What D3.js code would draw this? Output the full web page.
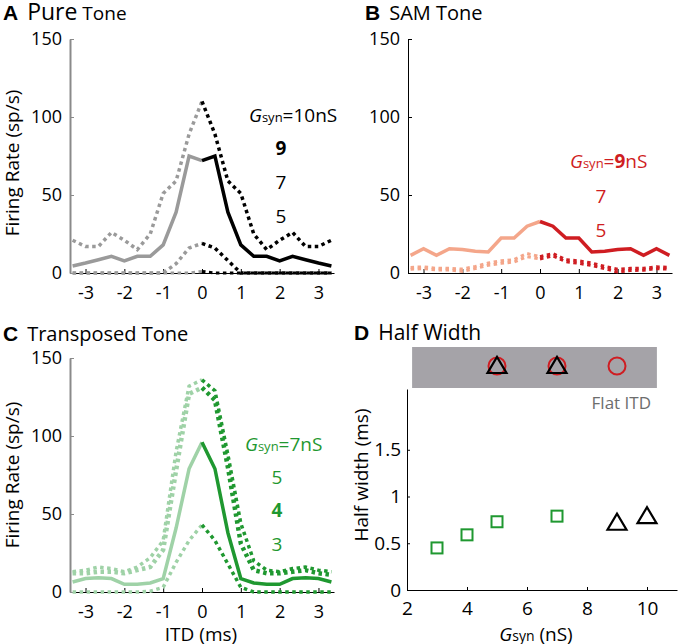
<!DOCTYPE html>
<html><head><meta charset="utf-8">
<script src="https://cdn.jsdelivr.net/npm/d3@7"></script>
<style>
body{margin:0;background:#fff}
svg{display:block}
text{font-family:"Open Sans",sans-serif;fill:#000}
</style>
</head><body>
<svg id="chart" width="678" height="644"></svg>
<script>
// ---------- data ----------
const itd = [-3.333,-3,-2.667,-2.333,-2,-1.667,-1.333,-1,-0.667,-0.333,0,0.333,0.667,1,1.333,1.667,2,2.333,2.667,3,3.333];
const itdTicks = [-3,-2,-1,0,1,2,3];
const rateTicks = [0,50,100,150];

// A: Pure tone (Gsyn = 10, 9, 7, 5 nS)
const pureG10 = [21,17,17,26,21,15,25,51,59,89,110,89,59,51,25,15,21,26,17,17,21];
const pureG9  = [4.5,6.4,8.5,10.7,7.7,10.7,10.7,18,39,75,72,75,39,18,10.7,10.7,7.7,10.7,8.5,6.4,4.5];
const pureG7  = [0,0,0,0,0,0,0,0,6,16,19,16,8,0,0,0,0,0,0,0,0];
const pureG5  = [0,0,0,0,0,0,0,0,0,0,1,0,0,0,0,0,0,0,0,0,0];

// B: SAM tone (Gsyn = 9, 7, 5 nS)
const samG9 = [11.3,15.6,11.3,15.6,15,14,13.5,22.4,22.4,30,33,30,22.4,22.4,13.5,14,15,15.6,11.3,15.6,11.3];
const samG7 = [3.6,4,3,3,2.5,4.2,6.4,7.8,8.6,12.5,10.5,12.5,8.6,7.8,6.4,4.2,2.5,3,3,4,3.6];
const samG5 = [2.4,2.8,2,2,1,2.8,5,6.2,7,10.5,9,11,7.2,6.2,4.8,2.8,0.6,1.6,1.8,2.8,2.4];

// C: Transposed tone (Gsyn = 7, 5, 4, 3 nS)
const transG7 = [13,14,16,15,13,16,22,33,90,132,136,129,88,44,20,14,13,15,16,14,13];
const transG5 = [12,12,13,13,12,14,16,27,78,127,131,123,80,31,14,12,12,13,14,12,11];
const transG4 = [6.4,8.6,9.2,8.6,4.9,4.9,5.8,8.6,41,79,96,79,38,8.6,5.8,4.9,4.9,8.6,9.2,8.6,6.4];
const transG3 = [0,0,0,0,0,0,0.5,3,19,33,43,33,18,3,0,0,0,0,0,0,0];

// D: Half width vs Gsyn
const gsynTicks = [2,4,6,8,10];
const halfTicks = [0,0.5,1,1.5];
const transGsyn = [3,4,5,7];
const transHalf = [0.45,0.59,0.73,0.79];
const pureGsyn = [9,10];
const pureHalf = [0.73,0.80];
const flatPureGsyn = [5,7];
const flatSamGsyn = [5,7,9];
const flatBand = [2.17,10.33];

// ---------- colours ----------
const C = {
  grayLight:"#9a9a9a", black:"#000",
  salmon:"#f4a68a", red:"#cf1d22",
  greenLight:"#9fd2a7", green:"#1f9830",
  band:"#a5a3a8", flatText:"#6d6d6d"
};

const svg = d3.select("#chart");

function ratePanel(opt){
  const x = d3.scaleLinear().domain([-3.4,3.4]).range([opt.x0, opt.x0+264]);
  const y = d3.scaleLinear().domain([0,150]).range([opt.y0, opt.y0-234]);
  const g = svg.append("g");
  const xa = g.append("g").attr("transform",`translate(0,${opt.y0})`)
    .call(d3.axisBottom(x).tickValues(itdTicks).tickFormat(d=>String(d)).tickSize(-4).tickSizeOuter(0).tickPadding(13));
  xa.select(".domain").attr("stroke","#000").attr("stroke-width",1);
  xa.selectAll(".tick line").attr("stroke","#000");
  xa.selectAll("text").style("font-size","18px").attr("fill","#000");
  const ya = g.append("g").attr("transform",`translate(${opt.x0},0)`)
    .call(d3.axisLeft(y).tickValues(rateTicks).tickSize(-4).tickSizeOuter(0).tickPadding(8));
  ya.select(".domain").attr("stroke",opt.yAxisColor).attr("stroke-width",opt.yAxisWidth);
  ya.selectAll(".tick line").attr("stroke",opt.yAxisColor);
  ya.selectAll("text").style("font-size","18px").attr("fill","#000");
  const line = d3.line().x(d=>x(d[0])).y(d=>y(d[1]));
  opt.series.forEach(s=>{
    const pts = itd.map((t,i)=>[t,s.values[i]]);
    const left = pts.filter(p=>p[0]<=0.001), right = pts.filter(p=>p[0]>=-0.001);
    [[left,s.light],[right,s.dark]].forEach(([p,col])=>{
      g.append("path").attr("d",line(p)).attr("fill","none")
        .attr("stroke",col).attr("stroke-width",s.width)
        .attr("stroke-dasharray",s.dash||null)
        .attr("stroke-linejoin","miter");
    });
  });
  return {x,y,g};
}

function title(x,y,letter,parts){
  const t = svg.append("text").attr("x",x).attr("y",y);
  t.append("tspan").text(letter).style("font-weight","bold").style("font-size","21px").style("font-family","Liberation Sans, Arial, sans-serif");
  parts.forEach((p,i)=>t.append("tspan").attr("dx",i===0?9:0).text(p[0]).style("font-size",p[1]+"px"));
}

function gsynLabel(x,y,color,num,boldNum){
  const t = svg.append("text").attr("x",x).attr("y",y).attr("fill",color).style("fill",color);
  t.append("tspan").text("G").style("font-style","italic").style("font-size","19px");
  t.append("tspan").text("syn").style("font-size","13px");
  t.append("tspan").text("=").style("font-size","19px");
  t.append("tspan").text(num).style("font-size","19px").style("font-weight",boldNum?"bold":"normal");
  t.append("tspan").text("nS").style("font-size","19px");
}
function numLabel(x,y,color,txt,bold){
  svg.append("text").attr("x",x).attr("y",y).attr("text-anchor","middle")
    .style("fill",color).style("font-size","19px").style("font-weight",bold?"bold":"normal").text(txt);
}

const dot = "3.5 3.5";

// ---------- Panel A ----------
ratePanel({x0:70,y0:273,yAxisColor:"#8a8a8a",yAxisWidth:2,series:[
  {values:pureG5,light:C.grayLight,dark:C.black,width:3,dash:dot},
  {values:pureG7,light:C.grayLight,dark:C.black,width:3.5,dash:dot},
  {values:pureG10,light:C.grayLight,dark:C.black,width:3.5,dash:dot},
  {values:pureG9,light:C.grayLight,dark:C.black,width:3.5}
]});
title(3,20,"A",[["Pure",23],[" Tone",19]]);
svg.append("text").attr("transform","translate(19,163) rotate(-90)").attr("text-anchor","middle")
  .style("font-size","19px").text("Firing Rate (sp/s)");
gsynLabel(249,122,"#000","10",false);
numLabel(281,155,"#000","9",true);
numLabel(281,189,"#000","7",false);
numLabel(281,223,"#000","5",false);

// ---------- Panel B ----------
ratePanel({x0:408,y0:273,yAxisColor:"#000",yAxisWidth:1,series:[
  {values:samG5,light:C.salmon,dark:C.red,width:3,dash:dot},
  {values:samG7,light:C.salmon,dark:C.red,width:3,dash:dot},
  {values:samG9,light:C.salmon,dark:C.red,width:3.5}
]});
title(365,20,"B",[["SAM Tone",20]]);
gsynLabel(570,168,C.red,"9",true);
numLabel(601,203,C.red,"7",false);
numLabel(601,237,C.red,"5",false);

// ---------- Panel C ----------
ratePanel({x0:70,y0:592,yAxisColor:"#8a8a8a",yAxisWidth:2,series:[
  {values:transG3,light:C.greenLight,dark:C.green,width:3.5,dash:dot},
  {values:transG7,light:C.greenLight,dark:C.green,width:3.5,dash:dot},
  {values:transG5,light:C.greenLight,dark:C.green,width:4.5,dash:dot},
  {values:transG4,light:C.greenLight,dark:C.green,width:3.5}
]});
title(3,341,"C",[["Transposed Tone",20]]);
svg.append("text").attr("transform","translate(19,475) rotate(-90)").attr("text-anchor","middle")
  .style("font-size","19px").text("Firing Rate (sp/s)");
svg.append("text").attr("x",201).attr("y",641).attr("text-anchor","middle").style("font-size","19px").text("ITD (ms)");
gsynLabel(245,451,C.green,"7",false);
numLabel(277,484,C.green,"5",false);
numLabel(277,517,C.green,"4",true);
numLabel(277,551,C.green,"3",false);

// ---------- Panel D ----------
const xD = d3.scaleLinear().domain([2,11]).range([407,677]);
const yD = d3.scaleLinear().domain([0,2.15]).range([590,389]);
const gD = svg.append("g");
const xaD = gD.append("g").attr("transform","translate(0,590)")
  .call(d3.axisBottom(xD).tickValues(gsynTicks).tickSize(-3).tickSizeOuter(0).tickPadding(12));
xaD.selectAll("text").style("font-size","19px").attr("fill","#000");
const yaD = gD.append("g").attr("transform","translate(407,0)")
  .call(d3.axisLeft(yD).tickValues(halfTicks).tickFormat(d=>String(d)).tickSize(-3).tickSizeOuter(0).tickPadding(6));
yaD.selectAll("text").style("font-size","19px").attr("fill","#000");
title(354,340,"D",[["Half Width",21]]);
svg.append("text").attr("transform","translate(368,475) rotate(-90)").attr("text-anchor","middle")
  .style("font-size","19px").text("Half width (ms)");
const xl = svg.append("text").attr("x",536).attr("y",641).attr("text-anchor","middle");
xl.append("tspan").text("G").style("font-style","italic").style("font-size","19px");
xl.append("tspan").text("syn").style("font-size","14px");
xl.append("tspan").text(" (nS)").style("font-size","19px");

const bandY = 366;
gD.append("rect").attr("x",xD(flatBand[0])).attr("width",xD(flatBand[1])-xD(flatBand[0]))
  .attr("y",347).attr("height",41).attr("fill",C.band);
svg.append("text").attr("x",651).attr("y",409).attr("text-anchor","end").style("fill",C.flatText)
  .style("font-size","17px").text("Flat ITD");

const triPath = (cx,cy)=>{const w=19,h=16;return `M${cx-w/2},${cy+h/2-2}L${cx+w/2},${cy+h/2-2}L${cx},${cy-h/2-2}Z`;};

gD.selectAll("circle.flat").data(flatSamGsyn).enter().append("circle")
  .attr("cx",d=>xD(d)).attr("cy",bandY).attr("r",8.5)
  .attr("fill","none").attr("stroke",C.red).attr("stroke-width",2);
gD.selectAll("path.flatTri").data(flatPureGsyn).enter().append("path")
  .attr("d",d=>triPath(xD(d),bandY+1)).attr("fill","none").attr("stroke","#000").attr("stroke-width",2.2);

gD.selectAll("rect.sq").data(transGsyn).enter().append("rect")
  .attr("x",(d)=>xD(d)-5.5).attr("y",(d,i)=>yD(transHalf[i])-5.5).attr("width",11).attr("height",11)
  .attr("fill","none").attr("stroke",C.green).attr("stroke-width",2);
gD.selectAll("path.tri").data(pureGsyn).enter().append("path")
  .attr("d",(d,i)=>triPath(xD(d),yD(pureHalf[i])+2)).attr("fill","none").attr("stroke","#000").attr("stroke-width",2.2);
</script>
</body></html>
